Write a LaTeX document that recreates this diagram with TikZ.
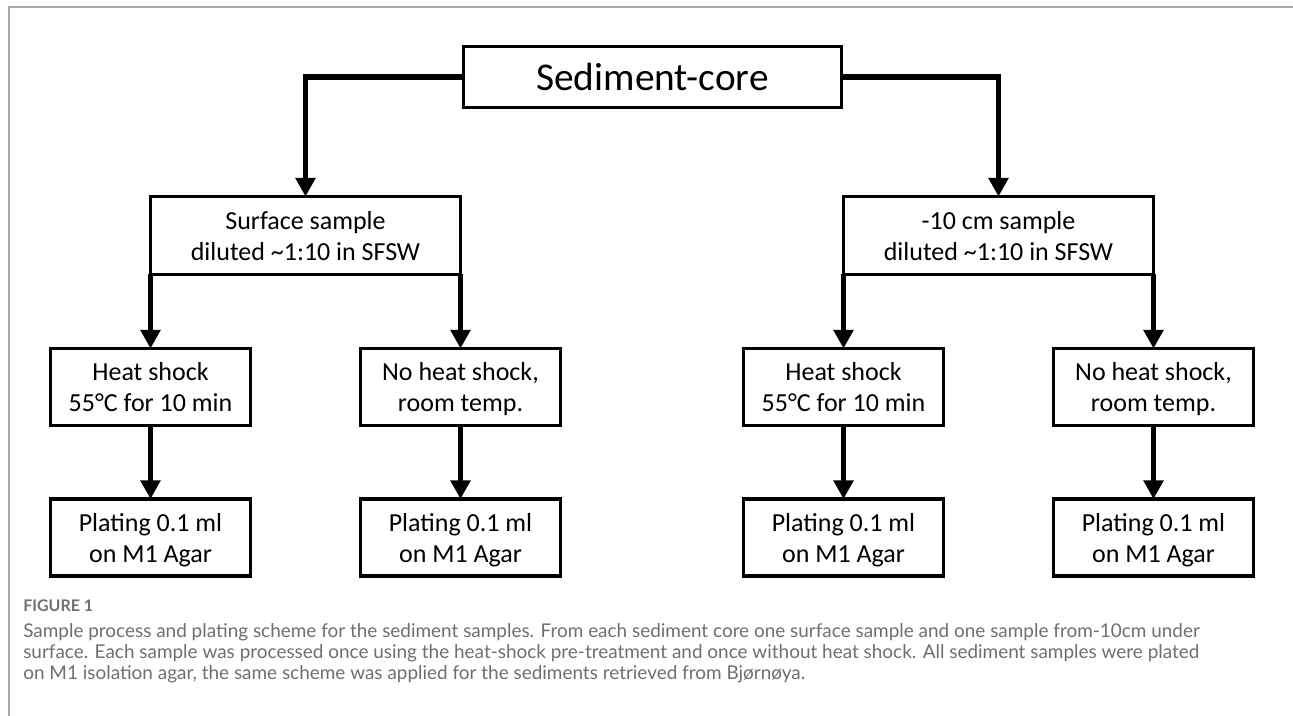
\documentclass[tikz,border=0pt]{standalone}
\usepackage{fontspec}
\setmainfont{Carlito}
\newfontfamily\capfont{Lato}
\usepackage{tikz}
\usetikzlibrary{arrows.meta}
\usepackage{xcolor}
\definecolor{capgray}{HTML}{6E6E6E}
\definecolor{figgray}{HTML}{707070}
\definecolor{framegray}{HTML}{A8A8A8}

\begin{document}
\begin{tikzpicture}[x=0.75pt,y=-0.75pt,
	box/.style={draw,line width=2.5pt,align=center,inner sep=0pt,outer sep=0pt,text depth=0pt,minimum width=150pt,minimum height=57.75pt,font=\fontsize{19.5}{23.25}\selectfont},
	flow/.style={line width=4.25pt,-{Triangle[length=14pt,width=14.5pt]}},
	capline/.style={anchor=base west,inner sep=0pt,text=capgray,font=\capfont\fontsize{14.2}{16}\selectfont}]
	\useasboundingbox (0,0) rectangle (1293,716);
	\draw[framegray,line width=1.1pt] (9,716) -- (9,7) -- (1293,7);

	% top and second row
	\node[box,minimum width=283.5pt,minimum height=45.75pt,font=\fontsize{29.5}{34}\selectfont] (core) at (652.5,77) {Sediment-core};
	\node[box,minimum width=232.5pt,minimum height=58.5pt] (surf) at (305.5,235.5) {Surface sample\\diluted \textasciitilde1:10 in SFSW};
	\node[box,minimum width=232.5pt,minimum height=58.5pt] (deep) at (998.5,235.5) {-10 cm sample\\diluted \textasciitilde1:10 in SFSW};

	% treatment row
	\node[box] (heatA) at (150.5,387) {Heat shock\\55°C for 10 min};
	\node[box] (coldA) at (460.5,387) {No heat shock,\\room temp.};
	\node[box] (heatB) at (843.5,387) {Heat shock\\55°C for 10 min};
	\node[box] (coldB) at (1153.5,387) {No heat shock,\\room temp.};

	% plating row
	\node[box] (plateA) at (150.5,537.5) {Plating 0.1 ml\\on M1 Agar};
	\node[box] (plateB) at (460.5,537.5) {Plating 0.1 ml\\on M1 Agar};
	\node[box] (plateC) at (843.5,537.5) {Plating 0.1 ml\\on M1 Agar};
	\node[box] (plateD) at (1153.5,537.5) {Plating 0.1 ml\\on M1 Agar};

	\draw[flow] (core.west) -| (surf.north);
	\draw[flow] (core.east) -| (deep.north);
	\draw[flow] (surf.south -| heatA.north) -- (heatA.north);
	\draw[flow] (surf.south -| coldA.north) -- (coldA.north);
	\draw[flow] (deep.south -| heatB.north) -- (heatB.north);
	\draw[flow] (deep.south -| coldB.north) -- (coldB.north);
	\draw[flow] (heatA) -- (plateA);
	\draw[flow] (coldA) -- (plateB);
	\draw[flow] (heatB) -- (plateC);
	\draw[flow] (coldB) -- (plateD);

	% caption
	\node[anchor=base west,inner sep=0pt,text=figgray,font=\capfont\bfseries\fontsize{12}{13}\selectfont] (fig) at (23,611) {FIGURE 1};
	\node[capline] (cap1) at (23,637) {Sample process and plating scheme for the sediment samples. From each sediment core one surface sample and one sample from-10cm under};
	\node[capline] (cap2) at (23,658) {surface. Each sample was processed once using the heat-shock pre-treatment and once without heat shock. All sediment samples were plated};
	\node[capline] (cap3) at (23,679) {on M1 isolation agar, the same scheme was applied for the sediments retrieved from Bjørnøya.};
\end{tikzpicture}
\end{document}
